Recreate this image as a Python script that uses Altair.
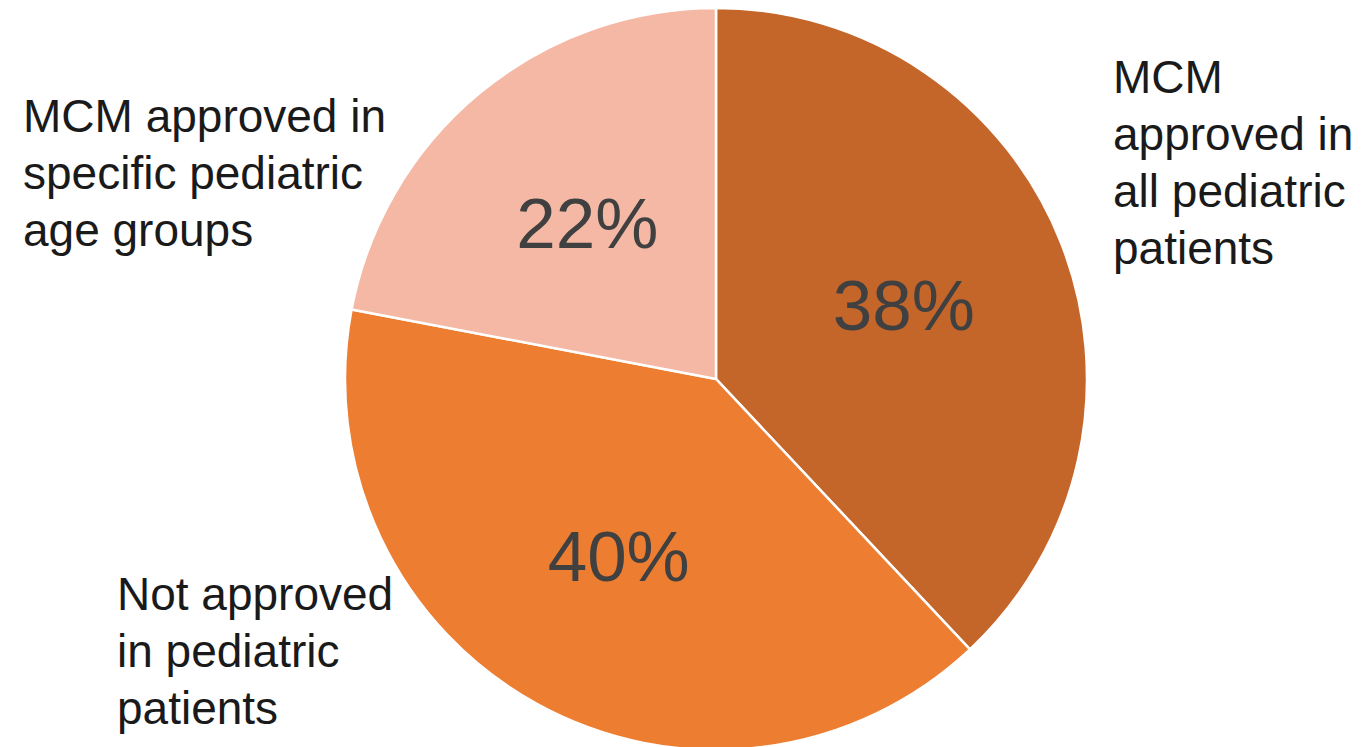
import altair as alt
import pandas as pd

categories = ["MCM approved in all pediatric patients",
              "Not approved in pediatric patients",
              "MCM approved in specific pediatric age groups"]
shares = [38, 40, 22]
pct_labels = ["38%", "40%", "22%"]
order_idx = [0, 1, 2]
colors = ["#C4652A", "#ED7D31", "#F4B8A5"]

df = pd.DataFrame({"category": categories, "share": shares,
                   "pct": pct_labels, "ord": order_idx})

CX, CY, R = 708, 371, 371

base = alt.Chart(df).encode(
    theta=alt.Theta("share:Q", stack=True),
    order=alt.Order("ord:Q"),
)

pie = base.mark_arc(stroke="white", strokeWidth=2.5, outerRadius=R).encode(
    color=alt.Color("category:N", scale=alt.Scale(domain=categories, range=colors), legend=None),
    x=alt.value(CX), y=alt.value(CY),
)

pct = base.mark_text(font="Liberation Sans", fontSize=71, color="#404040",
                     radius=202, align="center", baseline="middle", dy=4).encode(
    text="pct:N", x=alt.value(CX), y=alt.value(CY),
)

label_lines = [
    ["MCM", "approved in", "all pediatric", "patients"],
    ["Not approved", "in pediatric", "patients"],
    ["MCM approved in", "specific pediatric", "age groups"],
]
label_pos = [(1105, 85), (109, 602), (15, 124)]

layers = [pie, pct]
for lines, (lx, ly) in zip(label_lines, label_pos):
    t = alt.Chart(pd.DataFrame({"t": [lines]})).mark_text(
        font="Liberation Sans", fontSize=46, color="#1a1a1a", align="left",
        baseline="alphabetic", lineHeight=57,
    ).encode(text="t", x=alt.value(lx), y=alt.value(ly))
    layers.append(t)

chart = alt.layer(*layers).properties(
    width=1350, height=739, padding=0, autosize=alt.AutoSizeParams(type="none")
).configure_view(stroke=None)

chart.save("out.html", embed_options={"renderer": "svg", "actions": False})
